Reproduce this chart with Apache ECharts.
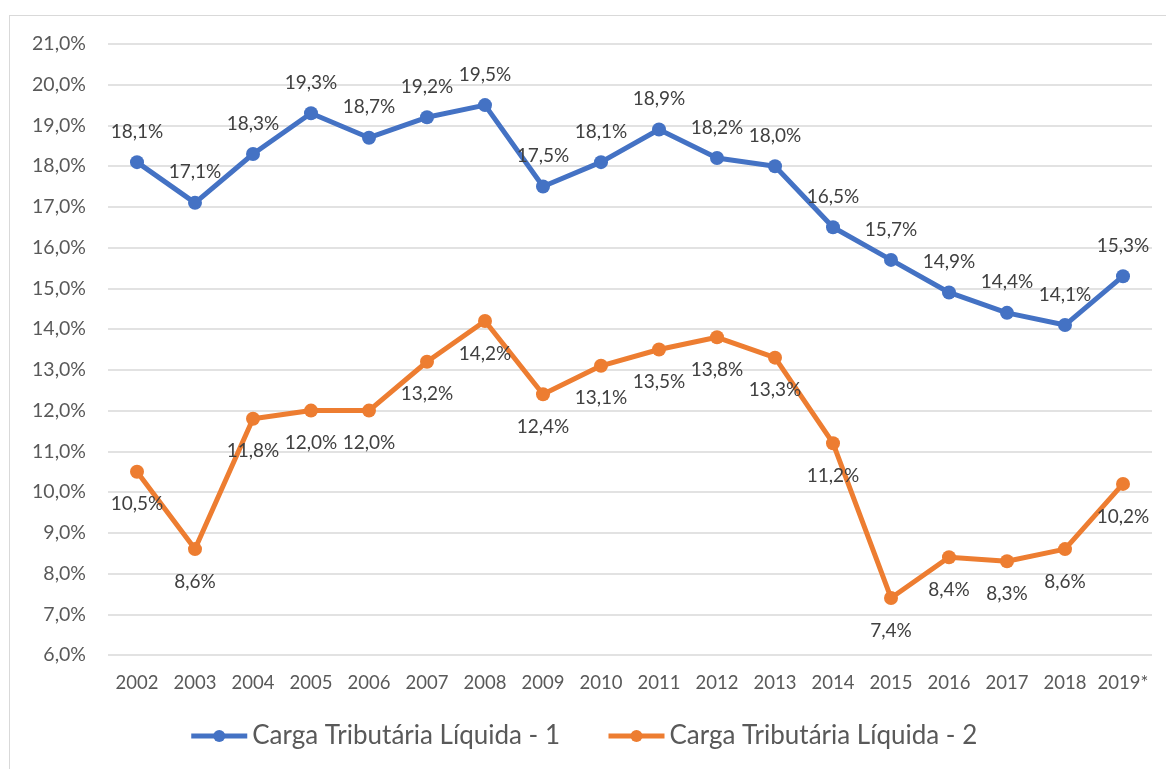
<!DOCTYPE html>
<html>
<head>
<meta charset="utf-8">
<script src="https://cdn.jsdelivr.net/npm/echarts@6/dist/echarts.min.js"></script>
<style>
html, body { margin: 0; padding: 0; background: #fff; }
#frame { position: absolute; left: 9px; top: 15px; width: 1170px; height: 770px; border: 1px solid #d9d9d9; box-sizing: border-box; }
#main { position: absolute; left: 0; top: 0; width: 1166px; height: 769px; }
</style>
</head>
<body>
<div id="frame"></div>
<div id="main"></div>
<script>
var years = ['2002', '2003', '2004', '2005', '2006', '2007', '2008', '2009', '2010',
    '2011', '2012', '2013', '2014', '2015', '2016', '2017', '2018', '2019*'];
var carga1 = [18.1, 17.1, 18.3, 19.3, 18.7, 19.2, 19.5, 17.5, 18.1, 18.9, 18.2, 18.0, 16.5, 15.7, 14.9, 14.4, 14.1, 15.3];
var carga2 = [10.5, 8.6, 11.8, 12.0, 12.0, 13.2, 14.2, 12.4, 13.1, 13.5, 13.8, 13.3, 11.2, 7.4, 8.4, 8.3, 8.6, 10.2];
var names = ['Carga Tributária Líquida - 1', 'Carga Tributária Líquida - 2'];

function pct(v) {
    return v.toFixed(1).replace('.', ',') + '%';
}

var dom = document.getElementById('main');
var myChart = echarts.init(dom);
var font = 'Lato, "Open Sans", sans-serif';

var option = {
    animation: false,
    textStyle: { fontFamily: font },
    grid: { left: 108, right: 14, top: 44, bottom: 114 },
    legend: {
        data: names,
        bottom: 15,
        left: 'center',
        itemWidth: 56,
        itemHeight: 15,
        itemGap: 46,
        lineStyle: { width: 5 },
        textStyle: { fontSize: 26, color: '#595959', fontFamily: font }
    },
    xAxis: {
        type: 'category',
        data: years,
        boundaryGap: true,
        axisLine: { show: false },
        axisTick: { show: false },
        axisLabel: { interval: 0, fontSize: 18.5, color: '#595959', margin: 19 }
    },
    yAxis: {
        type: 'value',
        min: 6,
        max: 21,
        interval: 1,
        axisLabel: { fontSize: 19.5, color: '#595959', margin: 22, formatter: function (v) { return pct(v); } },
        splitLine: { lineStyle: { color: '#d9d9d9', width: 1.5 } }
    },
    series: [
        {
            name: names[0],
            type: 'line',
            data: carga1,
            symbol: 'circle',
            symbolSize: 14,
            lineStyle: { color: '#4472c4', width: 5 },
            itemStyle: { color: '#4472c4' },
            label: {
                show: true,
                position: 'top',
                distance: 14,
                fontSize: 19,
                color: '#404040',
                formatter: function (p) { return pct(p.value); }
            }
        },
        {
            name: names[1],
            type: 'line',
            data: carga2,
            symbol: 'circle',
            symbolSize: 14,
            lineStyle: { color: '#ed7d31', width: 5 },
            itemStyle: { color: '#ed7d31' },
            label: {
                show: true,
                position: 'bottom',
                distance: 16,
                fontSize: 19,
                color: '#404040',
                formatter: function (p) { return pct(p.value); }
            }
        }
    ]
};
myChart.setOption(option);
</script>
</body>
</html>
